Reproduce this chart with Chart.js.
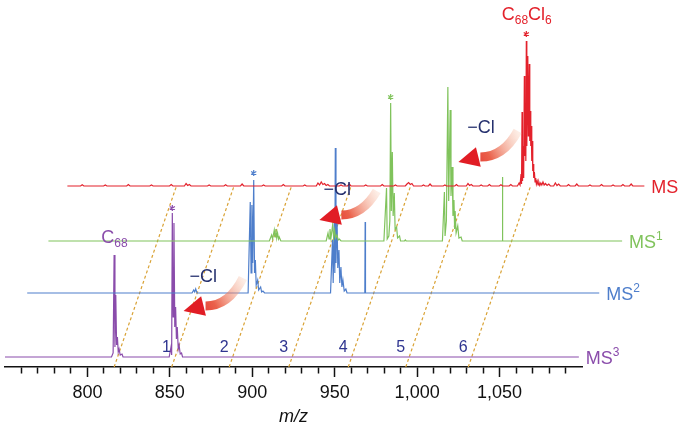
<!DOCTYPE html>
<html>
<head>
<meta charset="utf-8">
<script src="https://cdn.jsdelivr.net/npm/chart.js@4.4.1/dist/chart.umd.min.js"></script>
<style>
  body { margin: 0; background: #fff; }
  #wrap { width: 685px; height: 428px; }
</style>
</head>
<body>
<div id="wrap"><canvas id="chart"></canvas></div>
<script>
const FONT = '"Liberation Sans", Arial, Helvetica, sans-serif';

// stacked spectra: MS (top) ... MS3 (bottom)
const layerSup = ['', '1', '2', '3'];
const layerColors = ['#e3212b', '#80c35c', '#4e7ecb', '#8a4cab'];
const layerBase = [181, 126, 74, 10];      // vertical offset of each trace (a.u.)
const SKEW = 0.209;                        // m/z shift per intensity unit (slanted stacking)

// [m/z, intensity]
const msPeaks = [
  [750,0],[758,0],[759,1.2],[760,0],[772,0],[773,1],[774,0],[786,0],[787,1.5],[788,0],
  [800,0],[801,1],[802,0],[812,0],[813,1.5],[814,0],[821,0],[822,2.5],[823,0.5],[824,1.5],[825,0],
  [835,0],[836,1],[837,0],[845,0],[846,1.2],[847,0],[855,0],[856,2],[857,0],[868,0],[869,1],[870,0],
  [880,0],[881,1.5],[882,0],[893,0],[894,1],[895,0],[901,0],[902,3],[903,1],[904,4],[905,1.5],[906,2.5],[907,0.5],[908,1.5],[909,0],
  [915,0],[916,1],[917,0],[920,0],[921,2],[922,0],[930,0],[931,1],[932,0],[940,0],[941,1.5],[942,0],[948,0],[949,1],[950,0],
  [955,0],[956,2],[957,3.5],[958,1.5],[959,2.5],[960,0],[965,0],[966,1],[967,0],[969,0],[970,2],[971,0],[978,0],[979,1],[980,0],
  [985,0],[986,1.5],[987,0],[992,0],[993,2.5],[994,0.5],[995,1.5],[996,0],[1000,0],[1001,1],[1002,0],[1005,0],[1006,1.5],[1007,0],
  [1012,0],[1013,1.2],[1014,0],[1018,0],[1019,1.5],[1020,0],[1023,0],[1024,3],[1024.6,1],
  [1025.2,12],[1025.5,2],[1025.8,74],[1026.1,5],[1026.5,40],[1026.8,8],[1027.2,110],[1027.5,30],[1027.9,60],[1028.1,25],
  [1028.4,145],[1028.7,40],[1029.0,95],[1029.3,130],[1029.6,50],[1029.9,80],[1030.2,122],[1030.5,45],[1030.8,75],[1031.1,40],
  [1031.4,60],[1031.7,25],[1032.0,45],[1032.3,15],[1032.6,22],[1032.9,8],[1033.3,14],[1033.7,4],[1034.1,8],[1034.5,2],
  [1035,5],[1035.5,1],[1036,4],[1036.6,0.5],[1037.2,3],[1037.8,1],[1038.5,4],[1039.2,1],[1040,2.5],[1041,0.5],[1042,2],[1043,0],
  [1045,0],[1046,3],[1047,0.5],[1048,2],[1049,0],[1053,0],[1054,1.5],[1055,0],[1058,0],[1059,2],[1060,0],[1066,0],[1067,1],[1068,0],
  [1073,0],[1074,1.5],[1075,0],[1080,0],[1081,1],[1082,0],[1086,0],[1087,1.5],[1088,0],[1091,0],[1092,2],[1093,0],[1100,0]
];
const ms1Peaks = [
  [750,0],[884,0],[885.4,6],[886,2],[887,11],[887.5,4],[888,12],[888.5,3],[889,8],[889.6,2],[890,4],[891,0],
  [918.5,0],[919.6,8],[920.2,2],[920.8,12],[921.4,3],[922.4,16],[923,4],[923.6,11],[924.2,3],[925,6],[925.8,1],[926.5,2],[927.5,0],
  [953.5,0],[955.1,53],[955.5,2],[956.5,5],[957.1,20],[957.6,138],[958,30],[958.6,89],[959.1,25],[959.8,48],[960.3,12],
  [961.2,14],[961.8,3],[963,5],[963.6,0],[966,0],[966.5,1],[967,0],
  [989,0],[990.2,49],[990.6,5],[991.4,20],[992.3,154],[992.8,40],[993.7,131],[994.2,45],[994.9,74],[995.4,25],[996.0,41],
  [996.4,12],[996.7,30],[997.3,8],[998.3,15],[999,3],[1000.3,4],[1001,0],
  [1025.2,0],[1025.4,64],[1025.6,0],[1098,0]
];
const ms2Peaks = [
  [748,0],[848,0],[849,3],[849.6,1],[850.2,4],[851,0],
  [882,0],[883.3,91],[883.8,20],[884.3,88],[884.8,30],[885.4,113],[885.9,20],[886.4,33],[886.9,8],[887.8,13],[888.4,3],
  [889.6,6],[890.2,1],[891,2],[892,0],
  [932,0],[933.2,53],[933.6,10],[934.3,76],[934.6,20],[934.9,145],[935.3,30],[935.9,81],[936.4,25],[937.1,43],[937.6,10],
  [938.3,26],[938.9,6],[939.5,13],[940.3,2],[941.3,4],[942,0],
  [952.8,0],[953,71],[953.2,0],[1095,0]
];
const ms3Peaks = [
  [747.9,0],[812.5,0],[813.5,4],[814.1,102],[814.6,10],[815.1,62],[815.6,12],[816.1,20],[816.6,5],[817.1,8],[817.8,2],[818.9,3],[819.5,0],
  [847.5,0],[848.6,10],[849,2],[849.4,144],[849.9,40],[850.4,134],[850.9,30],[851.4,50],[851.9,18],[852.4,30],[853,8],
  [853.5,12],[854.2,3],[855,4],[855.6,0],[1096,0]
];
const spectra = [msPeaks, ms1Peaks, ms2Peaks, ms3Peaks];

// C68Cln guide lines (m/z at the axis) and their labels
const clMz = [816.2, 851.1, 886.0, 922.1, 958.2, 993.1, 1031.0];
const clLabels = ['', '1', '2', '3', '4', '5', '6'];
const guideTop = 180;

// precursor marks (*): layer, m/z, height above trace
const starLayer = [0, 1, 2, 3];
const starMz = [1028.4, 957.6, 885.4, 849.4];
const starH = [152, 144, 120, 149];

// "-Cl" arrows in axis units: tail and tip
const arrowTail = [[1061.0, 236], [975.5, 176], [894.3, 89]];
const arrowTip = [[1025.0, 205], [940.7, 147], [858.3, 56]];
const clTextPos = [[1038.8, 239], [951.6, 177], [870.3, 90]];

function fmtTick(v) {
  return v >= 1000 ? Math.floor(v / 1000) + ',' + String(v % 1000).padStart(3, '0') : String(v);
}

const datasets = spectra.map((pk, i) => ({
  data: pk.map(([m, h]) => ({ x: m + SKEW * layerBase[i], y: layerBase[i] + h })),
  borderColor: layerColors[i],
  borderWidth: 1.2,
  clip: false
}));
clMz.forEach(m => {
  datasets.push({
    data: [{ x: m, y: 0 }, { x: m + SKEW * guideTop, y: guideTop }],
    borderColor: '#d9a235',
    borderWidth: 1.2,
    borderDash: [3, 2.5],
    clip: false
  });
});

function drawRich(ctx, parts, x, baseY, color, align) {
  let w = 0;
  parts.forEach(p => { ctx.font = (p[1] ? '12px ' : '18px ') + FONT; w += ctx.measureText(p[0]).width; });
  let xx = align === 'center' ? x - w / 2 : x;
  ctx.fillStyle = color;
  ctx.textAlign = 'left';
  ctx.textBaseline = 'alphabetic';
  parts.forEach(p => {
    ctx.font = (p[1] ? '12px ' : '18px ') + FONT;
    const dy = p[1] === 1 ? 4 : p[1] === 2 ? -8 : 0;
    ctx.fillText(p[0], xx, baseY + dy);
    xx += ctx.measureText(p[0]).width;
  });
}

function drawStar(ctx, x, y, color) {
  ctx.save();
  ctx.strokeStyle = color;
  ctx.lineWidth = 1.2;
  ctx.beginPath();
  for (let a = 0; a < 3; a++) {
    const t = a * Math.PI / 3 + Math.PI / 2;
    ctx.moveTo(x - 3 * Math.cos(t), y - 3 * Math.sin(t));
    ctx.lineTo(x + 3 * Math.cos(t), y + 3 * Math.sin(t));
  }
  ctx.stroke();
  ctx.restore();
}

function drawArrow(ctx, tail, tip) {
  const base = { x: tip.x + 20, y: tip.y - 5 };
  const ctrl = { x: tail.x - 14, y: base.y };
  const g = ctx.createLinearGradient(tail.x, tail.y, tip.x, tip.y);
  g.addColorStop(0, 'rgba(246,185,155,0.25)');
  g.addColorStop(0.55, 'rgba(232,80,55,0.9)');
  g.addColorStop(1, '#e11d25');
  ctx.save();
  ctx.strokeStyle = g;
  ctx.lineWidth = 9;
  ctx.beginPath();
  ctx.moveTo(tail.x, tail.y);
  ctx.quadraticCurveTo(ctrl.x, ctrl.y, base.x + 2, base.y);
  ctx.stroke();
  const dx = tip.x - base.x, dy = tip.y - base.y, len = Math.hypot(dx, dy);
  const nx = -dy / len, ny = dx / len;
  ctx.fillStyle = '#e11d25';
  ctx.beginPath();
  ctx.moveTo(tip.x, tip.y);
  ctx.lineTo(base.x + nx * 10, base.y + ny * 10);
  ctx.lineTo(base.x - nx * 10, base.y - ny * 10);
  ctx.closePath();
  ctx.fill();
  ctx.restore();
}

const annotations = {
  id: 'annotations',
  afterDatasetsDraw(chart) {
    const { ctx, scales: { x, y } } = chart;
    const px = v => x.getPixelForValue(v), py = v => y.getPixelForValue(v);
    ctx.save();

    // trace names at the right end of each trace
    spectra.forEach((pk, i) => {
      const end = pk[pk.length - 1][0] + SKEW * layerBase[i];
      drawRich(ctx, [['MS', 0], [layerSup[i], 2]], px(end) + 7, py(layerBase[i]) + 6.5, layerColors[i], 'left');
    });

    // numbered guide lines
    ctx.font = '16px ' + FONT;
    ctx.fillStyle = '#2f3590';
    ctx.textAlign = 'center';
    ctx.textBaseline = 'middle';
    clMz.forEach((m, i) => {
      if (!clLabels[i]) return;
      ctx.fillText(clLabels[i], px(m + SKEW * 20) - 12, py(20) + 1);
    });

    // precursor stars
    starLayer.forEach((l, i) => {
      drawStar(ctx, px(starMz[i] + SKEW * layerBase[l]), py(layerBase[l] + starH[i]), layerColors[l]);
    });

    // arrows and -Cl
    arrowTail.forEach((t, i) => {
      drawArrow(ctx, { x: px(t[0]), y: py(t[1]) }, { x: px(arrowTip[i][0]), y: py(arrowTip[i][1]) });
    });
    ctx.font = '18px ' + FONT;
    ctx.fillStyle = '#25306e';
    ctx.textAlign = 'center';
    ctx.textBaseline = 'middle';
    clTextPos.forEach(p => ctx.fillText('\u2212Cl', px(p[0]), py(p[1])));

    // formulas
    drawRich(ctx, [['C', 0], ['68', 1], ['Cl', 0], ['6', 1]], px(1066.5), py(354) + 6.5, layerColors[0], 'center');
    drawRich(ctx, [['C', 0], ['68', 1]], px(816.4), py(131) + 6.5, layerColors[3], 'center');

    ctx.restore();
  }
};

new Chart(document.getElementById('chart'), {
  type: 'line',
  data: { datasets },
  options: {
    responsive: true,
    maintainAspectRatio: false,
    animation: false,
    layout: { padding: { left: 0, right: 103, top: 0, bottom: 0 } },
    elements: { point: { radius: 0 }, line: { tension: 0 } },
    plugins: { legend: { display: false }, tooltip: { enabled: false } },
    scales: {
      x: {
        type: 'linear',
        bounds: 'data',
        afterDataLimits: s => { s.min = 750; s.max = 1100; },
        afterFit: s => { s.height = 61; },
        ticks: {
          stepSize: 10,
          autoSkip: false,
          maxRotation: 0,
          padding: 5,
          color: '#111',
          font: { family: FONT, size: 18 },
          callback: v => (v % 50 === 0 && v > 750 && v < 1100) ? fmtTick(v) : ''
        },
        grid: {
          drawOnChartArea: false,
          drawTicks: true,
          tickLength: 10,
          tickWidth: 1.5,
          tickColor: c => (c.tick && (c.tick.value <= 750 || c.tick.value >= 1100)) ? 'rgba(0,0,0,0)' : '#111',
          tickBorderDash: c => (c.tick && c.tick.value % 50 !== 0) ? [6, 20] : []
        },
        border: { display: true, color: '#111', width: 1.5 },
        title: { display: true, text: 'm/z', color: '#111', font: { family: FONT, size: 18, style: 'italic' }, padding: 0 }
      },
      y: { display: false, min: 0, max: 367 }
    }
  },
  plugins: [annotations]
});
</script>
</body>
</html>
